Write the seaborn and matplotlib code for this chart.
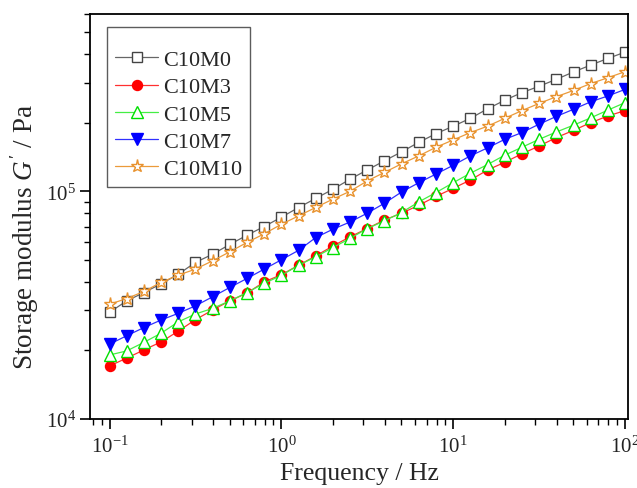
import numpy as np
import pandas as pd
import matplotlib
matplotlib.use("Agg")
import matplotlib.pyplot as plt
import matplotlib.ticker as mticker
import seaborn as sns

# ---- data ----
freq = [10 ** (k / 10) for k in range(-10, 21)]

c10m0 = [29.4, 33.0, 35.9, 39.2, 43.2, 48.7, 52.9, 58.4, 64.1, 70.0, 76.9,
         84.8, 93.0, 102, 113, 124, 136, 149, 164, 179, 193,
         209, 230, 251, 271, 289, 310, 334, 358, 383, 408]
c10m3 = [17.1, 18.5, 20.1, 21.8, 24.3, 27.3, 30.1, 33.0, 35.7, 40.0, 43.0,
         47.3, 52.0, 57.5, 63.1, 68.6, 74.8, 80.1, 86.8, 94.9, 103,
         112, 124, 134, 146, 158, 172, 185, 200, 214, 226]
c10m5 = [19.1, 19.9, 21.7, 23.8, 26.7, 28.9, 30.6, 33.0, 35.9, 39.4, 42.7,
         47.3, 51.5, 56.6, 62.1, 68.6, 74.1, 80.7, 89.8, 98.7, 109,
         120, 131, 144, 156, 169, 182, 195, 210, 227, 245]
c10m7 = [21.3, 23.2, 25.2, 27.2, 29.1, 31.4, 34.4, 37.8, 41.4, 45.5, 50.0,
         55.0, 62.6, 68.1, 73.3, 80.1, 88.6, 99.3, 109, 119, 130,
         143, 155, 169, 181, 197, 213, 229, 247, 262, 280]
c10m10 = [31.9, 33.8, 36.3, 39.8, 42.8, 45.5, 49.5, 54.2, 59.6, 65.0, 71.6,
          77.9, 84.9, 92.3, 100, 111, 121, 132, 143, 156, 168,
          181, 193, 209, 226, 243, 260, 277, 297, 315, 335]

labels = ["C10M0", "C10M3", "C10M5", "C10M7", "C10M10"]
series = [c10m0, c10m3, c10m5, c10m7, c10m10]

# ---- style ----
sns.set_style("ticks")
plt.rcParams["font.family"] = ["Liberation Serif", "DejaVu Serif"]
plt.rcParams["mathtext.fontset"] = "custom"
plt.rcParams["mathtext.rm"] = "Liberation Serif"
plt.rcParams["mathtext.it"] = "Liberation Serif:italic"
plt.rcParams["mathtext.bf"] = "Liberation Serif:bold"

styles = {
    "C10M0": dict(color="#666666", marker="s", mfc="white", mec="#444444", ms=6.8),
    "C10M3": dict(color="#ff3030", marker="o", mfc="#ff0000", mec="#ff0000", ms=7.2),
    "C10M5": dict(color="#44ee44", marker="^", mfc="white", mec="#00e000", ms=8),
    "C10M7": dict(color="#3030ff", marker="v", mfc="#0000ff", mec="#0000ff", ms=8),
    "C10M10": dict(color="#eb9a3a", marker="*", mfc="white", mec="#e8922e", ms=9.5),
}

fig = plt.figure(figsize=(6.37, 4.89), dpi=100)
ax = fig.add_axes([90 / 637, 1 - 420 / 489, (628 - 90) / 637, (420 - 15) / 489])
ax.set_xscale("log")
ax.set_yscale("log")

for lab, vals in zip(labels, series):
    df = pd.DataFrame({"f": freq, "G": np.array(vals) * 1000.0})
    st = styles[lab]
    sns.lineplot(data=df, x="f", y="G", ax=ax, color=st["color"], lw=0.9,
                 marker=st["marker"], markerfacecolor=st["mfc"],
                 markeredgecolor=st["mec"], markersize=st["ms"],
                 markeredgewidth=1.0, label=lab, errorbar=None, sort=False)

ax.set_xlim(0.077, 104)
ax.set_ylim(1e4, 6e5)

ax.set_xlabel("Frequency / Hz", fontsize=18.5, labelpad=4)
ax.set_ylabel(r"Storage modulus $G'$ / Pa", fontsize=19.5)
ax.yaxis.set_label_coords((41 - 90) / 538, (420 - 237) / 405)

ax.xaxis.set_major_locator(mticker.LogLocator(base=10, numticks=10))
ax.xaxis.set_minor_locator(mticker.LogLocator(base=10, subs=np.arange(2, 10), numticks=20))
ax.yaxis.set_major_locator(mticker.LogLocator(base=10, numticks=10))
ax.yaxis.set_minor_locator(mticker.LogLocator(base=10, subs=np.arange(2, 10), numticks=20))
ax.xaxis.set_minor_formatter(mticker.NullFormatter())
ax.yaxis.set_minor_formatter(mticker.NullFormatter())

ax.tick_params(axis="both", which="major", direction="out", length=7, width=1.2,
               labelsize=15, top=False, right=False, color="black", labelcolor="#222222")
ax.tick_params(axis="both", which="minor", direction="out", length=4, width=1.0,
               top=False, right=False, color="black")
ax.tick_params(axis="x", which="major", pad=5)
ax.tick_params(axis="y", which="major", pad=3)

for sp in ax.spines.values():
    sp.set_visible(True)
    sp.set_linewidth(1.3)
    sp.set_color("black")

leg = ax.legend(loc="upper left", bbox_to_anchor=((107 - 90) / 538, (420 - 28) / 405),
                fontsize=16, title=" ", title_fontsize=6,
                frameon=True, fancybox=False, edgecolor="#333333",
                handlelength=1.95, handletextpad=0.22, labelspacing=0.3,
                borderpad=0.36, borderaxespad=0.0)
leg.get_frame().set_linewidth(1.0)

fig.savefig("out.png", dpi=100)
